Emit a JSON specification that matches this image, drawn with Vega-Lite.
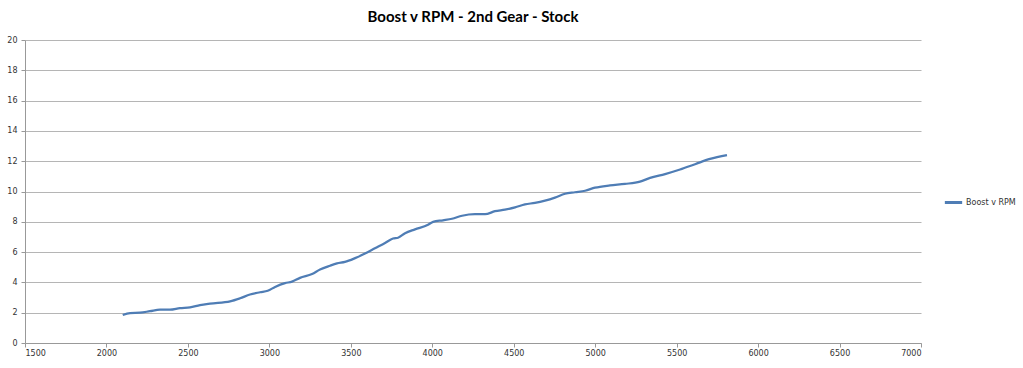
{
  "$schema": "https://vega.github.io/schema/vega-lite/v6.json",
  "autosize": {"type": "none"},
  "width": 896,
  "height": 303,
  "padding": {"left": 25, "top": 40, "right": 102, "bottom": 25},
  "background": "white",
  "title": {
    "text": "Boost v RPM - 2nd Gear - Stock",
    "font": "Lato",
    "fontSize": 15,
    "fontWeight": "bold",
    "color": "#000000",
    "anchor": "middle",
    "offset": 11
  },
  "config": {
    "view": {"stroke": null},
    "axis": {
      "labelFont": "DejaVu Sans",
      "labelFontSize": 8,
      "labelColor": "#333333",
      "domainColor": "#999999",
      "tickColor": "#999999",
      "gridColor": "#b5b5b5",
      "title": null
    }
  },
  "data": {
    "values": [
      {"rpm": 2100, "boost": 1.85, "series": "Boost v RPM"},
      {"rpm": 2145, "boost": 1.98, "series": "Boost v RPM"},
      {"rpm": 2206, "boost": 2.0, "series": "Boost v RPM"},
      {"rpm": 2267, "boost": 2.1, "series": "Boost v RPM"},
      {"rpm": 2329, "boost": 2.2, "series": "Boost v RPM"},
      {"rpm": 2390, "boost": 2.2, "series": "Boost v RPM"},
      {"rpm": 2451, "boost": 2.3, "series": "Boost v RPM"},
      {"rpm": 2513, "boost": 2.35, "series": "Boost v RPM"},
      {"rpm": 2574, "boost": 2.5, "series": "Boost v RPM"},
      {"rpm": 2636, "boost": 2.6, "series": "Boost v RPM"},
      {"rpm": 2759, "boost": 2.75, "series": "Boost v RPM"},
      {"rpm": 2820, "boost": 2.95, "series": "Boost v RPM"},
      {"rpm": 2881, "boost": 3.2, "series": "Boost v RPM"},
      {"rpm": 2943, "boost": 3.35, "series": "Boost v RPM"},
      {"rpm": 2990, "boost": 3.45, "series": "Boost v RPM"},
      {"rpm": 3035, "boost": 3.7, "series": "Boost v RPM"},
      {"rpm": 3096, "boost": 3.95, "series": "Boost v RPM"},
      {"rpm": 3139, "boost": 4.05, "series": "Boost v RPM"},
      {"rpm": 3188, "boost": 4.3, "series": "Boost v RPM"},
      {"rpm": 3262, "boost": 4.55, "series": "Boost v RPM"},
      {"rpm": 3311, "boost": 4.85, "series": "Boost v RPM"},
      {"rpm": 3372, "boost": 5.1, "series": "Boost v RPM"},
      {"rpm": 3415, "boost": 5.25, "series": "Boost v RPM"},
      {"rpm": 3464, "boost": 5.35, "series": "Boost v RPM"},
      {"rpm": 3526, "boost": 5.6, "series": "Boost v RPM"},
      {"rpm": 3587, "boost": 5.9, "series": "Boost v RPM"},
      {"rpm": 3648, "boost": 6.25, "series": "Boost v RPM"},
      {"rpm": 3710, "boost": 6.6, "series": "Boost v RPM"},
      {"rpm": 3759, "boost": 6.9, "series": "Boost v RPM"},
      {"rpm": 3790, "boost": 6.95, "series": "Boost v RPM"},
      {"rpm": 3833, "boost": 7.25, "series": "Boost v RPM"},
      {"rpm": 3894, "boost": 7.5, "series": "Boost v RPM"},
      {"rpm": 3974, "boost": 7.8, "series": "Boost v RPM"},
      {"rpm": 4005, "boost": 8.0, "series": "Boost v RPM"},
      {"rpm": 4066, "boost": 8.1, "series": "Boost v RPM"},
      {"rpm": 4121, "boost": 8.2, "series": "Boost v RPM"},
      {"rpm": 4183, "boost": 8.4, "series": "Boost v RPM"},
      {"rpm": 4262, "boost": 8.5, "series": "Boost v RPM"},
      {"rpm": 4324, "boost": 8.5, "series": "Boost v RPM"},
      {"rpm": 4385, "boost": 8.7, "series": "Boost v RPM"},
      {"rpm": 4446, "boost": 8.8, "series": "Boost v RPM"},
      {"rpm": 4508, "boost": 8.95, "series": "Boost v RPM"},
      {"rpm": 4569, "boost": 9.15, "series": "Boost v RPM"},
      {"rpm": 4630, "boost": 9.25, "series": "Boost v RPM"},
      {"rpm": 4692, "boost": 9.4, "series": "Boost v RPM"},
      {"rpm": 4753, "boost": 9.6, "series": "Boost v RPM"},
      {"rpm": 4815, "boost": 9.85, "series": "Boost v RPM"},
      {"rpm": 4876, "boost": 9.95, "series": "Boost v RPM"},
      {"rpm": 4938, "boost": 10.05, "series": "Boost v RPM"},
      {"rpm": 4999, "boost": 10.25, "series": "Boost v RPM"},
      {"rpm": 5091, "boost": 10.4, "series": "Boost v RPM"},
      {"rpm": 5183, "boost": 10.5, "series": "Boost v RPM"},
      {"rpm": 5275, "boost": 10.65, "series": "Boost v RPM"},
      {"rpm": 5337, "boost": 10.9, "series": "Boost v RPM"},
      {"rpm": 5429, "boost": 11.15, "series": "Boost v RPM"},
      {"rpm": 5521, "boost": 11.45, "series": "Boost v RPM"},
      {"rpm": 5613, "boost": 11.8, "series": "Boost v RPM"},
      {"rpm": 5705, "boost": 12.15, "series": "Boost v RPM"},
      {"rpm": 5809, "boost": 12.4, "series": "Boost v RPM"}
    ]
  },
  "mark": {"type": "line", "interpolate": "monotone", "strokeWidth": 2.25},
  "encoding": {
    "x": {
      "field": "rpm",
      "type": "quantitative",
      "scale": {"domain": [1500, 7000], "nice": false, "zero": false},
      "axis": {
        "values": [1500, 2000, 2500, 3000, 3500, 4000, 4500, 5000, 5500, 6000, 6500, 7000],
        "grid": false,
        "tickSize": 4,
        "labelPadding": 2,
        "format": "d"
      }
    },
    "y": {
      "field": "boost",
      "type": "quantitative",
      "scale": {"domain": [0, 20], "nice": false},
      "axis": {
        "values": [0, 2, 4, 6, 8, 10, 12, 14, 16, 18, 20],
        "grid": true,
        "tickSize": 4,
        "labelPadding": 4
      }
    },
    "color": {
      "field": "series",
      "type": "nominal",
      "scale": {"range": ["#4f7db5"]},
      "legend": {
        "title": null,
        "orient": "none",
        "legendX": 918,
        "legendY": 152,
        "symbolType": "stroke",
        "symbolSize": 300,
        "symbolStrokeWidth": 3,
        "labelFont": "DejaVu Sans",
        "labelFontSize": 8,
        "labelColor": "#333333",
        "labelOffset": 2
      }
    }
  }
}
